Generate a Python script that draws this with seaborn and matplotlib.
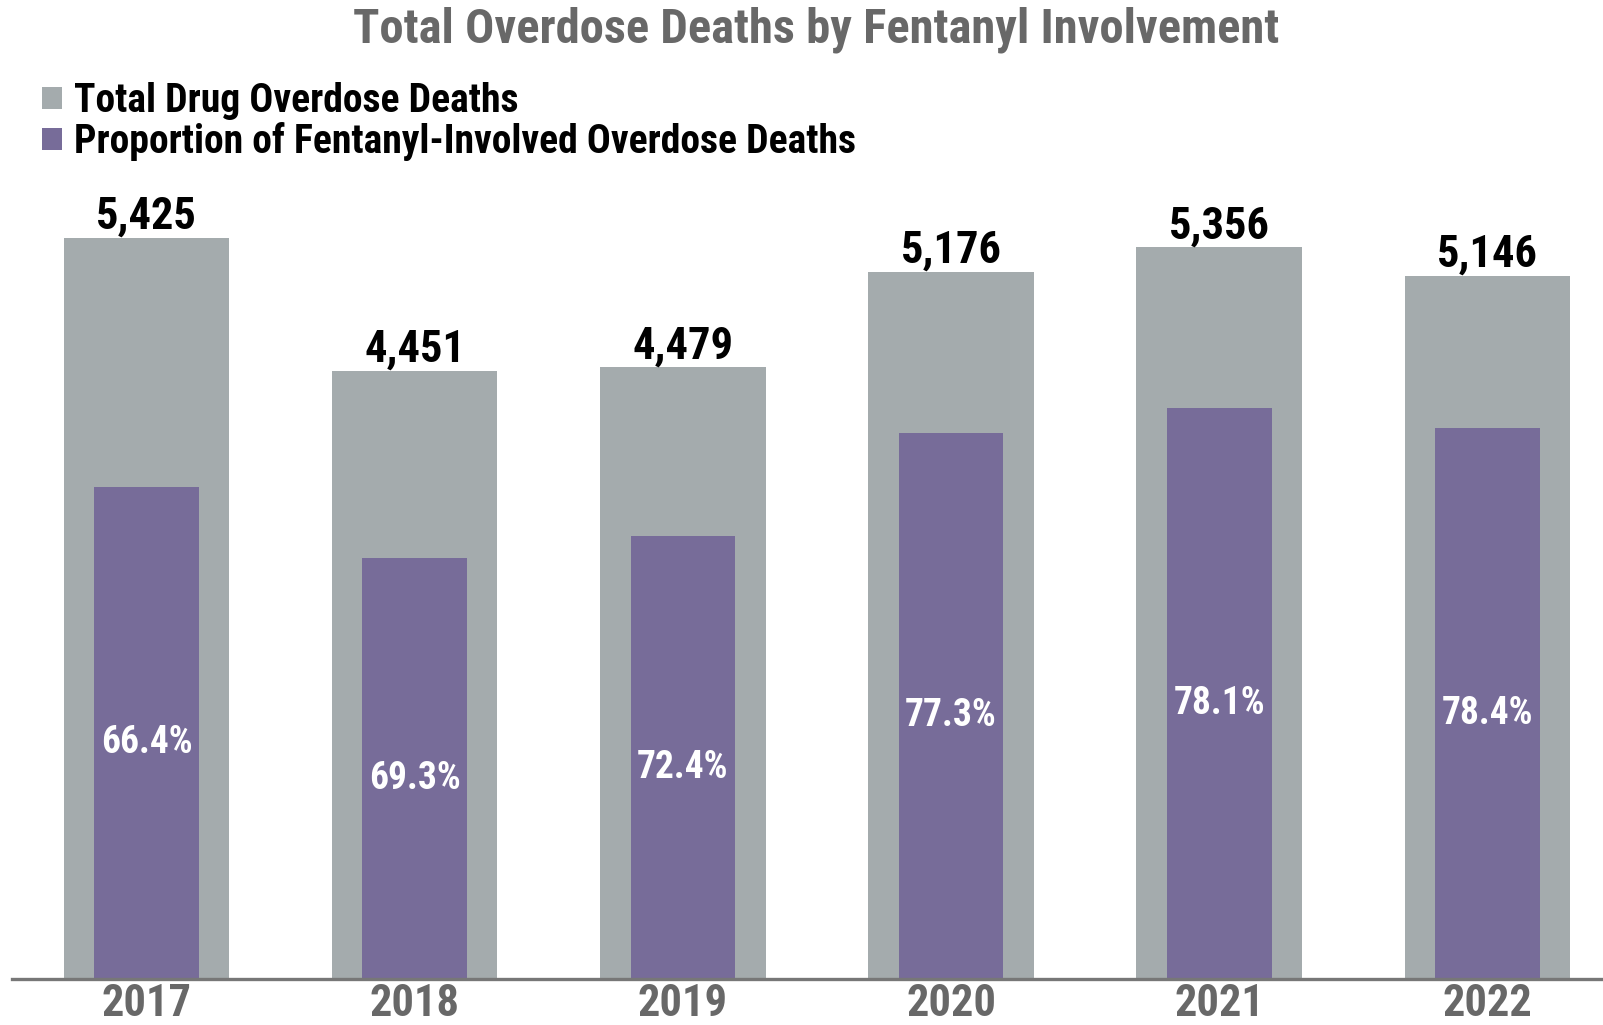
import matplotlib
matplotlib.use("Agg")
import matplotlib.pyplot as plt
from matplotlib.patches import Patch
import seaborn as sns
import pandas as pd

# Overdose deaths per year and share involving fentanyl
years = ["2017", "2018", "2019", "2020", "2021", "2022"]
total_deaths = [5425, 4451, 4479, 5176, 5356, 5146]
fentanyl_pct = [66.4, 69.3, 72.4, 77.3, 78.1, 78.4]

fentanyl_deaths = [t * p / 100 for t, p in zip(total_deaths, fentanyl_pct)]
df = pd.DataFrame({"year": years, "total": total_deaths, "fentanyl": fentanyl_deaths})

GRAY = "#A4ABAD"
PURPLE = "#776C99"
TEXT_GRAY = "#686868"

sns.set_theme(style="white")
FONT = ["Roboto Condensed", "DejaVu Sans"]
plt.rcParams["font.family"] = FONT
plt.rcParams["font.weight"] = "bold"
plt.rcParams["font.stretch"] = "condensed"

fig = plt.figure(figsize=(16.03, 10.25), dpi=100)
ax = fig.add_axes([0.0077, 0.0449, 0.9923, 0.755])

sns.barplot(data=df, x="year", y="total", color=GRAY, width=0.617,
            saturation=1, linewidth=0, edgecolor="none", ax=ax, zorder=2)
sns.barplot(data=df, x="year", y="fentanyl", color=PURPLE, width=0.39,
            saturation=1, linewidth=0, edgecolor="none", ax=ax, zorder=3)

ax.set_xlabel("")
ax.set_ylabel("")
ax.set_yticks([])

for s in ["top", "right", "left"]:
    ax.spines[s].set_visible(False)
ax.spines["bottom"].set_color("#777777")
ax.spines["bottom"].set_linewidth(2.4)
ax.spines["bottom"].set_zorder(4)

ax.set_xticks(range(len(years)), years)
ax.set_xticks([i - 0.5 for i in range(len(years) + 1)], minor=True)
ax.tick_params(axis="x", which="major", length=0, pad=3, labelsize=32,
               labelcolor=TEXT_GRAY)
ax.tick_params(axis="x", which="minor", length=6, width=0.8, color="#DDDDDD",
               direction="out")
ax.set_xlim(-0.5, 5.431)
ax.set_ylim(0, 5666)

for i, (t, f, p) in enumerate(zip(total_deaths, fentanyl_deaths, fentanyl_pct)):
    ax.annotate(f"{t:,}", xy=(i, t), xytext=(0, 6.5), textcoords="offset points",
                ha="center", va="baseline", fontsize=32, color="black",
                fontweight="bold")
    ax.annotate(f"{p:.1f}%", xy=(i, f / 2), xytext=(0, -7),
                textcoords="offset points", ha="center", va="center",
                fontsize=27, color="white", fontweight="bold")

fig.text(0.509, 0.971, "Total Overdose Deaths by Fentanyl Involvement",
         ha="center", va="center", fontsize=35, color=TEXT_GRAY,
         fontweight="bold")

handles = [Patch(facecolor=GRAY, edgecolor="none"),
           Patch(facecolor=PURPLE, edgecolor="none")]
fig.legend(handles, ["Total Drug Overdose Deaths",
                     "Proportion of Fentanyl-Involved Overdose Deaths"],
           loc="upper left", bbox_to_anchor=(0.0265, 0.920), frameon=False,
           handlelength=0.5, handleheight=0.5, labelcolor="black",
           handletextpad=0.3, labelspacing=0.05, borderpad=0, borderaxespad=0,
           prop={"family": FONT, "weight": "bold", "size": 28.5,
                 "stretch": "condensed"})

fig.savefig("out.png", dpi=100)
